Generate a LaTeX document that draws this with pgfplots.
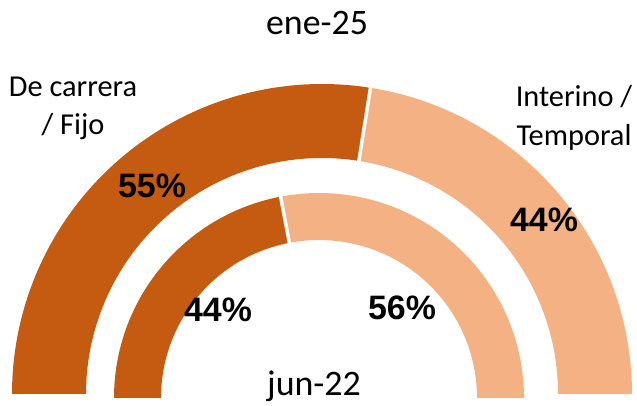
\documentclass[border=0pt]{standalone}
\usepackage{pgfplots}
\pgfplotsset{compat=1.18}
\usepackage{fontspec}
\setmainfont{Carlito}
\newfontfamily\pctfont{Liberation Sans}
\definecolor{darkor}{HTML}{C55A11}
\definecolor{lightor}{HTML}{F4B183}
% data (percent of the half ring)
\def\eneFijo{55}\def\eneTemp{44}
\def\junFijo{44}\def\junTemp{56}
\begin{document}
\begin{tikzpicture}
\begin{axis}[
  width=637bp, height=406bp, scale only axis,
  xmin=0, xmax=637, ymin=0, ymax=406,
  hide axis, clip=false,
]
\path (axis cs:0,0) rectangle (axis cs:637,406);
% outer ring: ene-25, centre (322,12), radii 236..310
\pgfmathsetmacro{\aO}{180-\eneFijo*1.8}
\fill[darkor] (axis cs:12,12) arc[start angle=180,end angle=\aO,radius=310bp]
   -- ++({\aO+180}:74bp) arc[start angle=\aO,end angle=180,radius=236bp] -- cycle;
\fill[lightor] (axis cs:632,12) arc[start angle=0,end angle=\aO,radius=310bp]
   -- ++({\aO+180}:74bp) arc[start angle=\aO,end angle=0,radius=236bp] -- cycle;
\draw[white,line width=3.5bp] (axis cs:322,12) ++(\aO:230bp) -- ++(\aO:86bp);
% inner ring: jun-22, centre (319,8), radii 158..205
\pgfmathsetmacro{\aI}{180-\junFijo*1.8}
\fill[darkor] (axis cs:114,8) arc[start angle=180,end angle=\aI,radius=205bp]
   -- ++({\aI+180}:47bp) arc[start angle=\aI,end angle=180,radius=158bp] -- cycle;
\fill[lightor] (axis cs:524,8) arc[start angle=0,end angle=\aI,radius=205bp]
   -- ++({\aI+180}:47bp) arc[start angle=\aI,end angle=0,radius=158bp] -- cycle;
\draw[white,line width=3.5bp] (axis cs:319,8) ++(\aI:152bp) -- ++(\aI:60bp);
% labels
\node[anchor=base,font=\fontsize{36}{40}\selectfont] at (axis cs:317,371) {ene-25};
\node[anchor=base,font=\fontsize{36}{40}\selectfont] at (axis cs:314,11) {jun-22};
\node[anchor=base,font=\fontsize{30.5}{36}\selectfont] at (axis cs:73,309) {De carrera};
\node[anchor=base,font=\fontsize{30.5}{36}\selectfont] at (axis cs:73,271) {/ Fijo};
\node[anchor=base,font=\fontsize{30.5}{36}\selectfont] at (axis cs:574,299) {Interino /};
\node[anchor=base,font=\fontsize{30.5}{36}\selectfont] at (axis cs:574,260) {Temporal};
\node[anchor=base,font=\pctfont\bfseries\fontsize{34}{38}\selectfont] at (axis cs:152,208) {\eneFijo\%};
\node[anchor=base,font=\pctfont\bfseries\fontsize{34}{38}\selectfont] at (axis cs:544,174) {\eneTemp\%};
\node[anchor=base,font=\pctfont\bfseries\fontsize{34}{38}\selectfont] at (axis cs:218,84) {\junFijo\%};
\node[anchor=base,font=\pctfont\bfseries\fontsize{34}{38}\selectfont] at (axis cs:402,86) {\junTemp\%};
\end{axis}
\end{tikzpicture}
\end{document}
